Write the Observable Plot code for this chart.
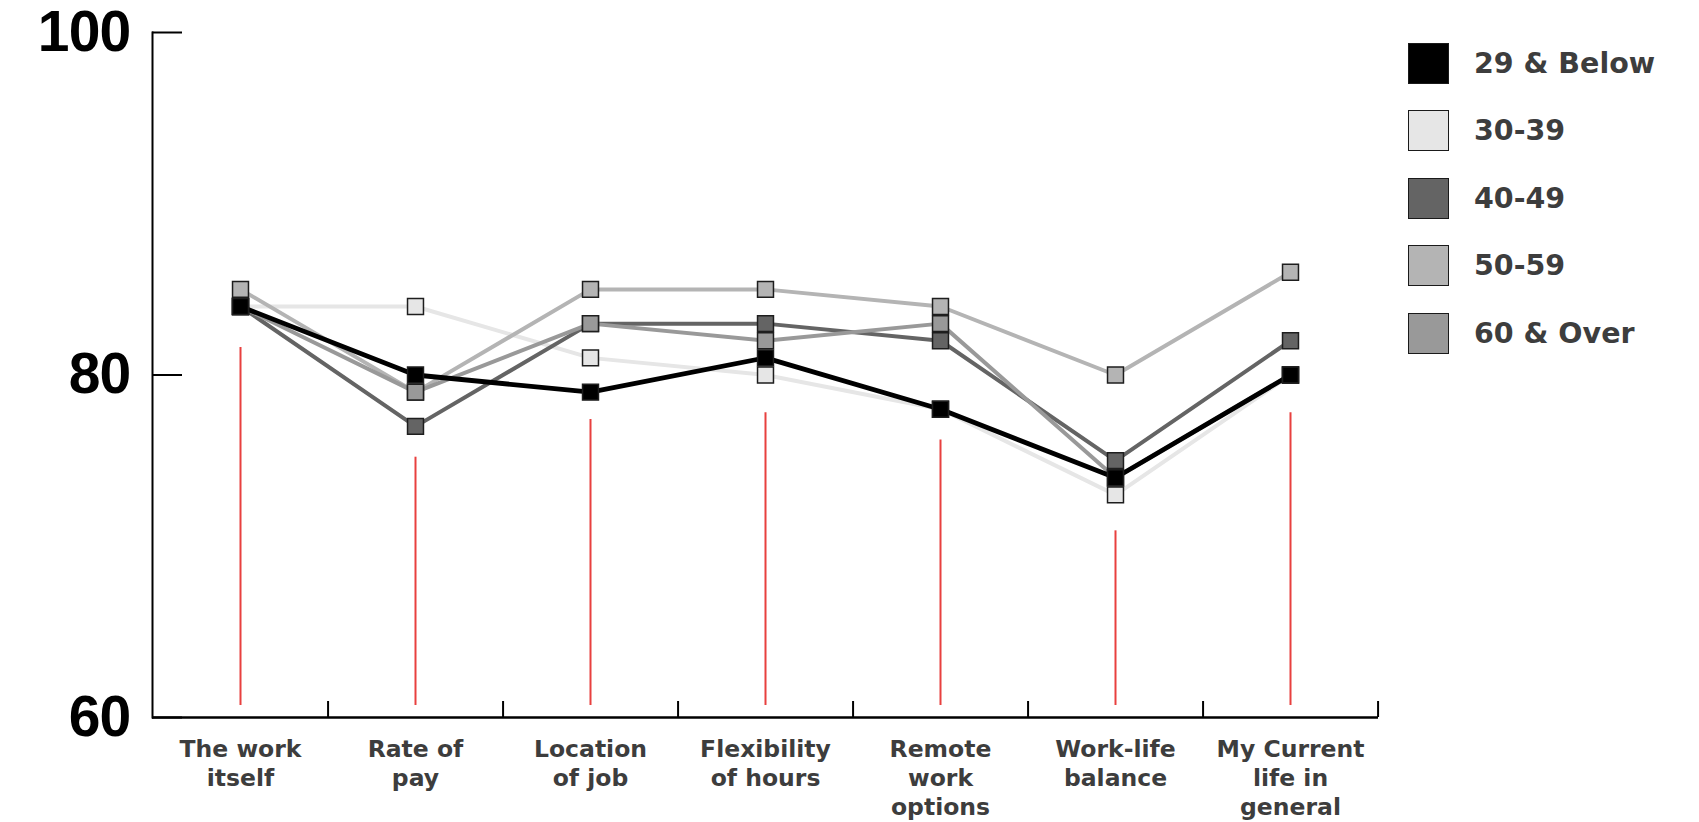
<!DOCTYPE html>
<html>
<head>
<meta charset="utf-8">
<script src="https://cdn.jsdelivr.net/npm/d3@7"></script>
<script src="https://cdn.jsdelivr.net/npm/@observablehq/plot@0.6"></script>
<style>
  html, body { margin: 0; padding: 0; background: #fff; }
  #wrap { position: relative; width: 1699px; height: 822px; }
  #legend { position: absolute; left: 1408px; top: 42px; font-family: "DejaVu Sans", sans-serif; font-weight: bold; }
  .item { display: flex; align-items: center; height: 42px; margin-bottom: 25.6px; }
  .sw { width: 39px; height: 39px; border: 1.5px solid #1a1a1a; box-sizing: content-box; }
  .lab { margin-left: 25px; font-size: 28.5px; color: #3d3d3d; white-space: nowrap; }
  g[aria-label="y-axis tick label"] text { letter-spacing: -0.8px; }
</style>
</head>
<body>
<div id="wrap"><div id="legend"></div></div>
<script>
// Categories (x axis)
const categories = ["The work itself", "Rate of pay", "Location of job", "Flexibility of hours", "Remote work options", "Work-life balance", "My Current life in general"];
const tickLabels = ["The work\nitself", "Rate of\npay", "Location\nof job", "Flexibility\nof hours", "Remote\nwork\noptions", "Work-life\nbalance", "My Current\nlife in\ngeneral"];

// Age groups (legend order) and their colours
const groups = ["29 & Below", "30-39", "40-49", "50-59", "60 & Over"];
const groupColors = ["#000000", "#e6e6e6", "#646464", "#b4b4b4", "#999999"];

// Series values
const age29Below = [84, 80, 79, 81, 78, 74, 80];
const age30to39  = [84, 84, 81, 80, 78, 73, 80];
const age40to49  = [84, 77, 83, 83, 82, 75, 82];
const age50to59  = [85, 79, 85, 85, 84, 80, 86];
const age60Over  = [84, 79, 83, 82, 83, 74, 80];

// Red vertical markers under each category (bottom and top values)
const redBottom = [60.7, 60.7, 60.7, 60.7, 60.7, 60.7, 60.7];
const redTop    = [81.6, 75.2, 77.4, 77.8, 76.2, 70.9, 77.8];

const yTicks = [60, 80, 100];

const seriesByGroup = {
  "29 & Below": age29Below,
  "30-39": age30to39,
  "40-49": age40to49,
  "50-59": age50to59,
  "60 & Over": age60Over
};
// drawing order (bottom to top)
const drawOrder = ["30-39", "50-59", "40-49", "60 & Over", "29 & Below"];
const data = drawOrder.flatMap(g => categories.map((c, i) => ({group: g, category: c, value: seriesByGroup[g][i]})));
const reds = categories.map((c, i) => ({category: c, y1: redBottom[i], y2: redTop[i]}));

const W = 1699, H = 822, mL = 152, mR = 321, mT = 32, mB = 105;
const step = (W - mL - mR) / categories.length;
const colorOf = g => groupColors[groups.indexOf(g)];

const plot = Plot.plot({
  width: W, height: H,
  marginLeft: mL, marginRight: mR, marginTop: mT, marginBottom: mB,
  style: {fontFamily: "DejaVu Sans, sans-serif", background: "transparent", overflow: "visible"},
  x: {type: "point", domain: categories, padding: 0.5, label: null},
  y: {domain: [60, 100], label: null},
  marks: [
    Plot.frame({anchor: "left", stroke: "#000", strokeWidth: 2}),
    Plot.ruleY([60], {stroke: "#000", strokeWidth: 2.5}),
    Plot.axisY({ticks: yTicks, tickSize: -30, tickFormat: () => "", stroke: "#000", strokeWidth: 2}),
    Plot.axisY({ticks: yTicks, tickSize: 0, tickPadding: 22, fontSize: 57, fontWeight: "bold", fontFamily: "Liberation Sans, Arial, sans-serif", fill: "#000"}),
    Plot.axisX({ticks: categories, tickSize: -16, dx: step / 2, tickFormat: () => "", stroke: "#000", strokeWidth: 2}),
    Plot.axisX({ticks: categories, tickSize: 0, tickPadding: 19, tickFormat: d => tickLabels[categories.indexOf(d)], lineHeight: 1.24, fontSize: 23.5, fontWeight: "bold", fill: "#3d3d3d"}),
    Plot.ruleX(reds, {x: "category", y1: "y1", y2: "y2", stroke: "#e8403f", strokeWidth: 2}),
    ...drawOrder.map(g => Plot.line(data.filter(d => d.group === g), {x: "category", y: "value", stroke: colorOf(g), strokeWidth: g === "29 & Below" ? 4.8 : 4})),
    ...drawOrder.map(g => Plot.dot(data.filter(d => d.group === g), {x: "category", y: "value", symbol: "square", r: 9, fill: colorOf(g), stroke: "#1e1e1e", strokeWidth: 1.5}))
  ]
});
document.getElementById("wrap").prepend(plot);

const legend = document.getElementById("legend");
groups.forEach((g, i) => {
  const item = document.createElement("div");
  item.className = "item";
  const sw = document.createElement("div");
  sw.className = "sw";
  sw.style.background = groupColors[i];
  const lab = document.createElement("div");
  lab.className = "lab";
  lab.textContent = g;
  item.appendChild(sw); item.appendChild(lab);
  legend.appendChild(item);
});
</script>
</body>
</html>
